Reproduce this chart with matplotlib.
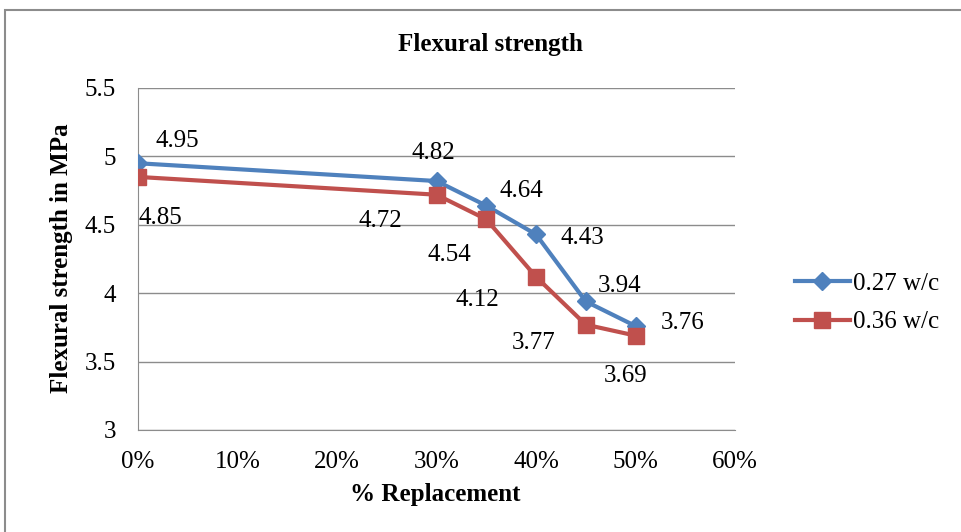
import numpy as np
import matplotlib.pyplot as plt
from matplotlib.ticker import PercentFormatter

# % replacement levels and flexural strength for the two w/c ratios
replacement = [0, 30, 35, 40, 45, 50]
strength_027 = [4.95, 4.82, 4.64, 4.43, 3.94, 3.76]
strength_036 = [4.85, 4.72, 4.54, 4.12, 3.77, 3.69]

# label offsets in pixels (dx, dy) for each data point
offs_027 = [(39, 22), (-3, 28), (35, 15), (46, -4), (34, 15), (47, 3)]
offs_036 = [(22, -41), (-56, -26), (-37, -36), (-59, -23), (-52, -18), (-10, -40)]

blue = '#4F81BD'
red = '#C0504D'
grey = '#8c8c8c'
fs = 18

plt.rcParams['font.family'] = ['Liberation Serif', 'DejaVu Serif']

fig = plt.figure(figsize=(9.62, 5.32), dpi=100)
ax = fig.add_axes([138/962, 1 - 430/532, (735 - 138)/962, (430 - 88)/532])

ax.plot(replacement, strength_027, color=blue, lw=3, marker='D', ms=9,
        label='0.27 w/c', zorder=3)
ax.plot(replacement, strength_036, color=red, lw=3, marker='s', ms=12,
        label='0.36 w/c', zorder=3)

for x, y, o in zip(replacement, strength_027, offs_027):
    ax.annotate(f'{y:.2f}', (x, y), xytext=o, textcoords='offset pixels',
                ha='center', va='center', fontsize=fs)
for x, y, o in zip(replacement, strength_036, offs_036):
    ax.annotate(f'{y:.2f}', (x, y), xytext=o, textcoords='offset pixels',
                ha='center', va='center', fontsize=fs)

ax.set_xlim(0, 60)
ax.set_ylim(3, 5.5)
ax.set_xticks(np.arange(0, 61, 10))
ax.set_yticks(np.arange(3, 5.51, 0.5))
ax.set_yticklabels(['3', '3.5', '4', '4.5', '5', '5.5'])
ax.xaxis.set_major_formatter(PercentFormatter(decimals=0))
ax.tick_params(length=0, labelsize=fs)
ax.tick_params(axis='x', pad=15)
ax.tick_params(axis='y', pad=16)
ax.grid(axis='y', color=grey, lw=1)
ax.set_axisbelow(True)
for side in ['top', 'right']:
    ax.spines[side].set_visible(False)
for side in ['left', 'bottom']:
    ax.spines[side].set_color(grey)

fig.text(490/962, 1 - 45/532, 'Flexural strength', fontsize=fs,
         fontweight='bold', ha='center', va='center')
fig.text(435/962, 1 - 494/532, '% Replacement', fontsize=fs,
         fontweight='bold', ha='center', va='center')
fig.text(62/962, 1 - 258/532, 'Flexural strength in MPa', fontsize=fs,
         fontweight='bold', ha='center', va='center', rotation=90)

fig.legend(loc='center left', bbox_to_anchor=(795/962, 1 - 303/532),
           frameon=False, fontsize=fs, handlelength=2.2, handletextpad=0.12,
           labelspacing=0.64, borderaxespad=0, borderpad=0)

# outer chart border
fig.patches.append(plt.Rectangle((5/962, -0.01), 1.02, 1 - 10/532 + 0.01,
                                 transform=fig.transFigure, fill=False,
                                 edgecolor=grey, lw=1.5))

fig.savefig('out.png', dpi=100)
